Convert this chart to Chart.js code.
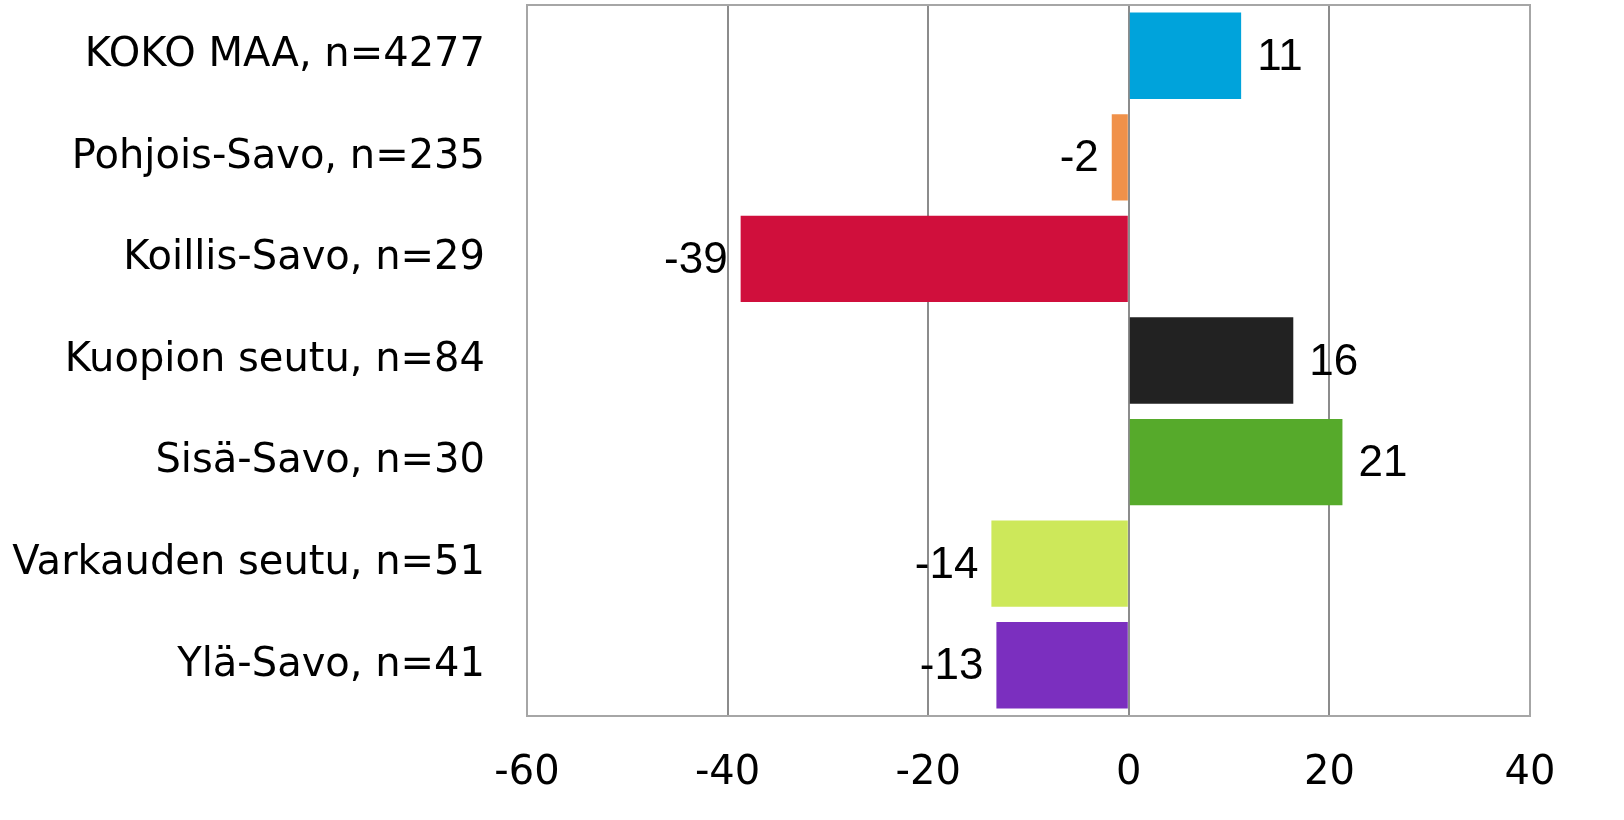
<!DOCTYPE html>
<html>
<head>
<meta charset="utf-8">
<script src="https://cdn.jsdelivr.net/npm/chart.js@4/dist/chart.umd.min.js"></script>
<style>
	html, body { margin: 0; padding: 0; background: #fff; }
	#wrap { width: 1624px; height: 820px; }
</style>
</head>
<body>
<div id="wrap"><canvas id="regionChart"></canvas></div>
<script>
const regions = ["KOKO MAA, n=4277", "Pohjois-Savo, n=235", "Koillis-Savo, n=29", "Kuopion seutu, n=84", "Sisä-Savo, n=30", "Varkauden seutu, n=51", "Ylä-Savo, n=41"];
const values = [11.2, -1.7, -38.7, 16.4, 21.3, -13.7, -13.2];
const barColors = ["#00a3db", "#f0914a", "#d00f3c", "#222222", "#56aa2b", "#cde85a", "#7b2fbf"];
const xTicks = [-60, -40, -20, 0, 20, 40];

const labelFont = "'DejaVu Sans', sans-serif";

// light box round the plot area
const frame = {
	id: 'frame',
	beforeDatasetsDraw(chart) {
		const { ctx, chartArea: a } = chart;
		ctx.save();
		ctx.strokeStyle = '#a6a6a6';
		ctx.lineWidth = 2;
		ctx.strokeRect(a.left, a.top, a.right - a.left, a.bottom - a.top);
		ctx.restore();
	}
};

// rounded value next to the end of each bar
const valueLabels = {
	id: 'valueLabels',
	afterDatasetsDraw(chart) {
		const ctx = chart.ctx;
		const meta = chart.getDatasetMeta(0);
		ctx.save();
		ctx.font = "44px 'Liberation Sans', Arial, sans-serif";
		ctx.fillStyle = '#000';
		ctx.textBaseline = 'middle';
		meta.data.forEach((bar, i) => {
			const v = values[i];
			const text = String(Math.round(v));
			if (v >= 0) {
				ctx.textAlign = 'left';
				ctx.fillText(text, bar.x + 16, bar.y + 2);
			} else {
				ctx.textAlign = 'right';
				ctx.fillText(text, bar.x - 13, bar.y + 2);
			}
		});
		ctx.restore();
	}
};

window.addEventListener('DOMContentLoaded', () => {
	const el = document.getElementById("regionChart");

	new Chart(el, {
		type: 'bar',
		data: {
			labels: regions,
			datasets: [{
				data: values,
				backgroundColor: barColors,
				borderWidth: 0,
				barPercentage: 0.85,
				categoryPercentage: 1
			}]
		},
		options: {
			indexAxis: 'y',
			responsive: true,
			maintainAspectRatio: false,
			animation: false,
			layout: { padding: { top: 5, right: 94, left: 0, bottom: 0 } },
			plugins: {
				legend: { display: false },
				tooltip: { enabled: false }
			},
			scales: {
				x: {
					min: -60,
					max: 40,
					afterBuildTicks: axis => { axis.ticks = xTicks.map(v => ({ value: v })); },
					afterFit: axis => {
						axis.height = 104;
						axis.paddingLeft = 0;
						axis.paddingRight = 0;
					},
					grid: { color: '#8c8c8c', lineWidth: 2, drawTicks: false },
					border: { display: false },
					ticks: {
						color: '#000',
						padding: 34,
						font: { family: labelFont, size: 40 }
					}
				},
				y: {
					afterFit: axis => {
						axis.width = 527;
						axis.paddingTop = 0;
						axis.paddingBottom = 0;
					},
					grid: { display: false, drawTicks: false },
					border: { display: false },
					ticks: {
						color: '#000',
						padding: 42,
						font: { family: labelFont, size: 40 }
					}
				}
			}
		},
		plugins: [frame, valueLabels]
	});
});
</script>
</body>
</html>
